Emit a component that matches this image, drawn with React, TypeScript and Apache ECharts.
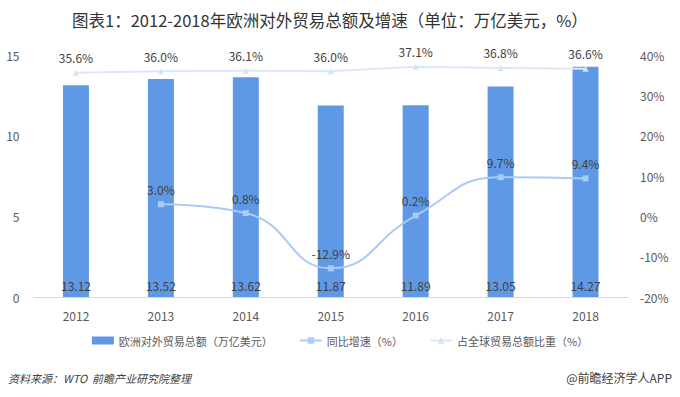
import React, { useEffect, useRef } from "react";
import * as echarts from "echarts";

const years = ["2012", "2013", "2014", "2015", "2016", "2017", "2018"];
const tradeTotal = [13.12, 13.52, 13.62, 11.87, 11.89, 13.05, 14.27];
const growthRate = [null, 3.0, 0.8, -12.9, 0.2, 9.7, 9.4];
const globalShare = [35.6, 36.0, 36.1, 36.0, 37.1, 36.8, 36.6];

const FONT = "'Noto Sans CJK SC', 'Noto Sans', sans-serif";

export default function App() {
  const ref = useRef<HTMLDivElement>(null);
  useEffect(() => {
    const chart = echarts.init(ref.current!, undefined, { renderer: "svg" });
    chart.setOption({
      animation: false,
      textStyle: { fontFamily: FONT },
      title: {
        text: "图表1：2012-2018年欧洲对外贸易总额及增速（单位：万亿美元，%）",
        left: 67,
        top: 7,
        textStyle: { fontSize: 16.5, fontWeight: "normal", color: "#333", fontFamily: FONT },
      },
      legend: {
        top: 330,
        left: "center",
        itemGap: 26,
        itemWidth: 22,
        itemHeight: 8,
        textStyle: { fontSize: 11, color: "#595959" },
        data: [
          { name: "欧洲对外贸易总额（万亿美元）", icon: "rect" },
          { name: "同比增速（%）" },
          { name: "占全球贸易总额比重（%）" },
        ],
      },
      grid: { left: 33.5, right: 52, top: 55, bottom: 100 },
      xAxis: {
        type: "category",
        data: years,
        axisLine: { lineStyle: { color: "#d9d9d9" } },
        axisTick: { show: false },
        axisLabel: { color: "#595959", fontSize: 12, margin: 12 },
      },
      yAxis: [
        {
          type: "value",
          min: 0,
          max: 15,
          interval: 5,
          axisLine: { show: false },
          axisTick: { show: false },
          splitLine: { show: false },
          axisLabel: { color: "#595959", fontSize: 12, margin: 14 },
        },
        {
          type: "value",
          min: -20,
          max: 40,
          interval: 10,
          axisLine: { show: false },
          axisTick: { show: false },
          splitLine: { show: false },
          axisLabel: { color: "#595959", fontSize: 12, margin: 12, formatter: "{value}%" },
        },
      ],
      series: [
        {
          name: "欧洲对外贸易总额（万亿美元）",
          type: "bar",
          data: tradeTotal,
          barWidth: 26,
          itemStyle: { color: "#5f99e6" },
          label: {
            show: true,
            position: "insideBottom",
            distance: 6,
            color: "#404040",
            fontSize: 12,
            formatter: (p: any) => p.value.toFixed(2),
          },
        },
        {
          name: "同比增速（%）",
          type: "line",
          yAxisIndex: 1,
          data: growthRate,
          smooth: 0.5,
          symbol: "rect",
          symbolSize: 6,
          lineStyle: { color: "#a9cbf7", width: 2 },
          itemStyle: { color: "#a9cbf7" },
          label: {
            show: true,
            position: "top",
            distance: 6,
            color: "#404040",
            fontSize: 12,
            formatter: (p: any) => Number(p.value).toFixed(1) + "%",
          },
        },
        {
          name: "占全球贸易总额比重（%）",
          type: "line",
          yAxisIndex: 1,
          data: globalShare,
          symbol: "triangle",
          symbolSize: 6,
          lineStyle: { color: "#dbe8f9", width: 2 },
          itemStyle: { color: "#d2e3f8" },
          label: {
            show: true,
            position: "top",
            distance: 6,
            color: "#404040",
            fontSize: 12,
            formatter: (p: any) => Number(p.value).toFixed(1) + "%",
          },
        },
      ],
      graphic: [
        {
          type: "text",
          left: 8,
          top: 372,
          style: {
            text: "资料来源：WTO  前瞻产业研究院整理",
            fill: "#404040",
            font: `italic 11px ${FONT}`,
          },
        },
        {
          type: "text",
          right: 8,
          top: 371,
          style: {
            text: "@前瞻经济学人APP",
            fill: "#404040",
            font: `12px ${FONT}`,
          },
        },
      ],
    });
    return () => chart.dispose();
  }, []);
  return (
    <div
      ref={ref}
      style={{ position: "absolute", left: 0, top: 0, width: 680, height: 397, background: "#fff" }}
    />
  );
}
